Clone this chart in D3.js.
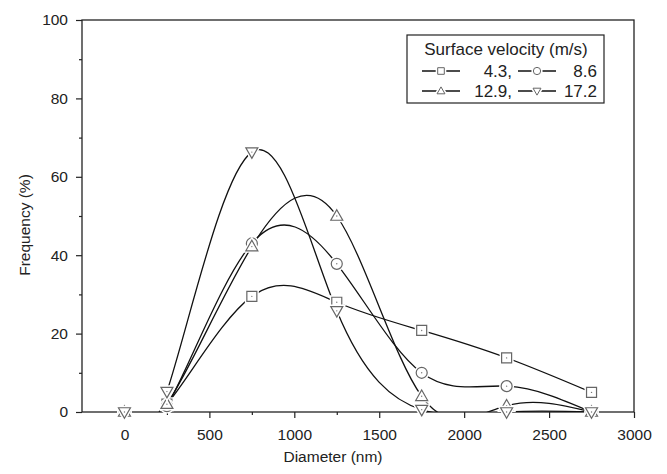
<!DOCTYPE html>
<html>
<head>
<meta charset="utf-8">
<script src="https://cdn.jsdelivr.net/npm/d3@7"></script>
<style>
  body { margin: 0; background: #fff; }
  text { font-family: "Liberation Sans", Arial, sans-serif; fill: #222; }
</style>
</head>
<body>
<div class="chart"></div>
<script>
// data
var diameters = [0, 250, 750, 1250, 1750, 2250, 2750];
var v43  = [0, 2, 29.5, 28, 20.8, 13.8, 5];
var v86  = [0, 1.5, 43, 37.8, 10, 6.6, 0];
var v129 = [0, 2, 42.2, 50, 4, 1.6, 0];
var v172 = [0, 5.2, 66.3, 25.8, 0.6, 0, 0];
var seriesNames = ["4.3,", "8.6", "12.9,", "17.2"];
var xTicks = [0, 500, 1000, 1500, 2000, 2500, 3000];
var yTicks = [0, 20, 40, 60, 80, 100];

var series = [
  {name: seriesNames[0], values: v43,  sym: "square"},
  {name: seriesNames[1], values: v86,  sym: "circle"},
  {name: seriesNames[2], values: v129, sym: "up"},
  {name: seriesNames[3], values: v172, sym: "down"}
];

var W = 667, H = 474,
    margin = {top: 20, right: 33, bottom: 62, left: 82};
var w = W - margin.left - margin.right,
    h = H - margin.top - margin.bottom;

var svg = d3.select("div.chart").append("svg")
  .attr("width", W).attr("height", H);
var g = svg.append("g")
  .attr("transform", "translate(" + margin.left + "," + margin.top + ")");

var x = d3.scaleLinear().domain([-250, 3000]).range([0, w]);
var y = d3.scaleLinear().domain([0, 100]).range([h, 0]);

g.append("clipPath").attr("id", "clip")
  .append("rect").attr("width", w).attr("height", h);

// axes
var xAxis = g.append("g").attr("transform", "translate(0," + h + ")")
  .call(d3.axisBottom(x).tickValues(xTicks).tickSize(6).tickPadding(11).tickFormat(d3.format("d")));
var xMinor = g.append("g").attr("transform", "translate(0," + h + ")")
  .call(d3.axisBottom(x).tickValues([250, 750, 1250, 1750, 2250, 2750]).tickSize(3).tickFormat(""));
var yAxis = g.append("g")
  .call(d3.axisLeft(y).tickValues(yTicks).tickSize(6).tickPadding(8).tickFormat(d3.format("d")));
var yMinor = g.append("g")
  .call(d3.axisLeft(y).tickValues([10, 30, 50, 70, 90]).tickSize(3).tickFormat(""));

[xAxis, xMinor, yAxis, yMinor].forEach(function(a) {
  a.select(".domain").remove();
  a.selectAll("line").attr("stroke", "#222").attr("stroke-width", 1.2);
  a.selectAll("text").style("font-size", "15.5px")
    .style("font-family", "'Liberation Sans', Arial, sans-serif").attr("fill", "#222");
});

g.append("rect").attr("width", w).attr("height", h)
  .attr("fill", "none").attr("stroke", "#222").attr("stroke-width", 1.3);

svg.append("text").attr("x", 333).attr("y", 462)
  .attr("text-anchor", "middle").style("font-size", "15.5px").text("Diameter (nm)");
svg.append("text").attr("transform", "translate(30,225) rotate(-90)")
  .attr("text-anchor", "middle").style("font-size", "15.5px").text("Frequency (%)");

// markers
function marker(sel, sym, s) {
  var p;
  if (sym === "square") p = "M" + (-s) + "," + (-s) + "H" + s + "V" + s + "H" + (-s) + "Z";
  else if (sym === "up") p = "M0," + (-s * 1.25) + "L" + (s * 1.2) + "," + (s * 0.85) + "H" + (-s * 1.2) + "Z";
  else if (sym === "down") p = "M0," + (s * 1.25) + "L" + (s * 1.2) + "," + (-s * 0.85) + "H" + (-s * 1.2) + "Z";
  if (sym === "circle") sel.append("circle").attr("r", s * 1.1);
  else sel.append("path").attr("d", p);
}

var line = d3.line()
  .x(function(d, i) { return x(diameters[i]); })
  .y(function(d) { return y(d); })
  .curve(d3.curveNatural);

var plot = g.append("g").attr("clip-path", "url(#clip)");

series.forEach(function(s) {
  plot.append("path").datum(s.values)
    .attr("d", line).attr("fill", "none")
    .attr("stroke", "#111").attr("stroke-width", 1.3);
});

series.forEach(function(s) {
  var m = g.append("g").selectAll("g").data(s.values).enter().append("g")
    .attr("transform", function(d, i) { return "translate(" + x(diameters[i]) + "," + y(d) + ")"; });
  // white halo to break the line around the symbol
  m.each(function() {
    var halo = d3.select(this).append("g").attr("fill", "#fff").attr("stroke", "#fff").attr("stroke-width", 4);
    marker(halo, s.sym, 5);
    var sym = d3.select(this).append("g").attr("fill", "#fff").attr("stroke", "#666").attr("stroke-width", 1.2);
    marker(sym, s.sym, 5);
    d3.select(this).append("circle").attr("r", 0.7).attr("fill", "#777");
  });
});

// legend
var lg = svg.append("g");
lg.append("rect").attr("x", 407).attr("y", 35).attr("width", 197).attr("height", 68)
  .attr("fill", "#fff").attr("stroke", "#222").attr("stroke-width", 1.2);
lg.append("text").attr("x", 506).attr("y", 55).attr("text-anchor", "middle")
  .style("font-size", "17px").text("Surface velocity (m/s)");

var legPos = [
  {lx: 422, tx: 512, cy: 71},
  {lx: 518, tx: 597, cy: 71},
  {lx: 422, tx: 512, cy: 91},
  {lx: 518, tx: 597, cy: 91}
];
series.forEach(function(s, i) {
  var p = legPos[i];
  lg.append("line").attr("x1", p.lx).attr("x2", p.lx + 38)
    .attr("y1", p.cy).attr("y2", p.cy).attr("stroke", "#111").attr("stroke-width", 1.5);
  var m = lg.append("g").attr("transform", "translate(" + (p.lx + 19) + "," + p.cy + ")");
  var halo = m.append("g").attr("fill", "#fff").attr("stroke", "#fff").attr("stroke-width", 4);
  marker(halo, s.sym, 3.3);
  var sym = m.append("g").attr("fill", "#fff").attr("stroke", "#666").attr("stroke-width", 1);
  marker(sym, s.sym, 3.3);
  lg.append("text").attr("x", p.tx).attr("y", p.cy + 6).attr("text-anchor", "end")
    .style("font-size", "17px").text(s.name);
});
</script>
</body>
</html>
